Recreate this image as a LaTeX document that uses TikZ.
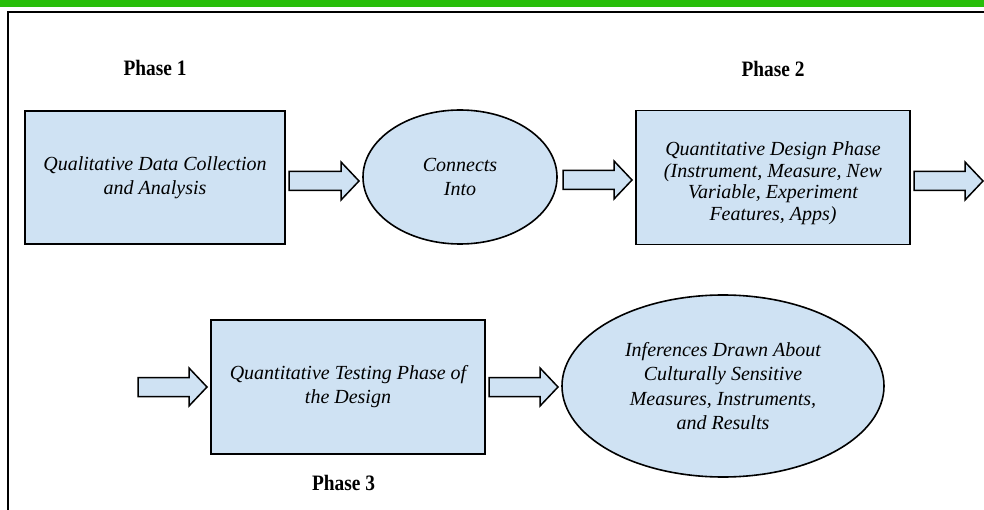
\documentclass[tikz,border=0pt]{standalone}
\usepackage{fontspec}
\setmainfont{Liberation Serif}
\newfontfamily\phasefont[FakeStretch=0.88]{Liberation Serif}
\usetikzlibrary{shapes.geometric}
\definecolor{boxblue}{RGB}{207,226,243}
\definecolor{topgreen}{RGB}{40,190,10}
\tikzset{
  box/.style={draw=black, line width=1.6pt, fill=boxblue, rectangle, inner sep=0pt,
    align=center, font=\itshape\fontsize{20}{24}\selectfont},
  oval/.style={draw=black, line width=1.6pt, fill=boxblue, ellipse, inner sep=0pt,
    align=center, font=\itshape\fontsize{20}{24.5}\selectfont},
  phase/.style={font=\phasefont\bfseries\fontsize{22}{24}\selectfont, inner sep=0pt},
  blockarrow/.style={draw=black, line width=1.5pt, fill=boxblue, line join=miter},
}
% #1 name, #2 x start, #3 x tip, #4 centre y
\newcommand\barrow[4]{%
  \coordinate (#1s) at (#2,#4);
  \coordinate (#1t) at (#3,#4);
  \draw[blockarrow] (#2,#4-9.5) -- (#3-18,#4-9.5) -- (#3-18,#4-19) -- (#1t)
    -- (#3-18,#4+19) -- (#3-18,#4+9.5) -- (#2,#4+9.5) -- cycle;}
\begin{document}
\begin{tikzpicture}[x=1pt,y=-1pt]
\useasboundingbox (0,0) rectangle (984,510);
\fill[topgreen] (0,0) rectangle (984,7.5);
\draw[line width=1.2pt] (8,510) -- (8,12) -- (984,12);

\node[phase] (p1) at (155,68) {Phase 1};
\node[phase] (p2) at (773,69) {Phase 2};
\node[phase] (p3) at (343.5,483) {Phase 3};

\node[box, minimum width=260pt, minimum height=133pt] (b1) at (155,177.5)
  {Qualitative Data Collection\\and Analysis};
\node[oval, minimum width=194pt, minimum height=134pt] (e1) at (460,177)
  {Connects\\Into};
\node[box, minimum width=274pt, minimum height=134pt] (b2) at (773,177.5)
  {\raisebox{-6pt}[\height][\depth]{\fontsize{20}{21.5}\selectfont\begin{tabular}{@{}c@{}}Quantitative Design Phase\\(Instrument, Measure, New\\Variable, Experiment\\Features, Apps)\end{tabular}}};
\node[box, minimum width=274pt, minimum height=134pt] (b3) at (348,387)
  {Quantitative Testing Phase of\\the Design};
\node[oval, minimum width=322pt, minimum height=182pt] (e2) at (723,386)
  {Inferences Drawn About\\Culturally Sensitive\\Measures, Instruments,\\and Results};

\barrow{a1}{289}{359}{181}
\barrow{a2}{563}{632}{180}
\barrow{a3}{914}{983}{181}
\barrow{a4}{138}{207}{387}
\barrow{a5}{489}{558}{387}
\end{tikzpicture}
\end{document}
